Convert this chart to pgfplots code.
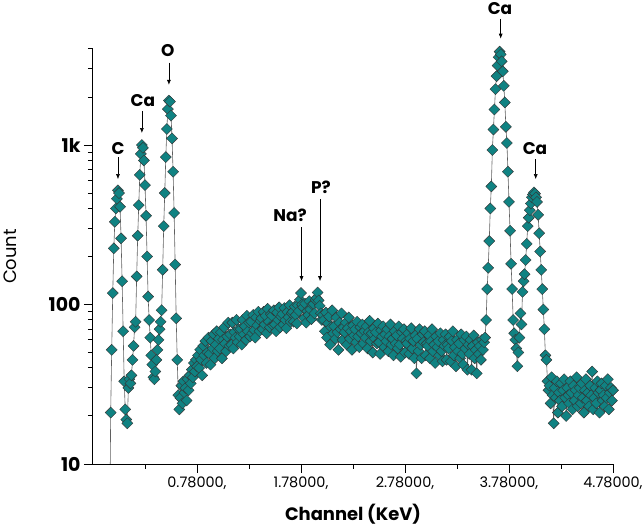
\documentclass[border=0pt]{standalone}
\usepackage{pgfplots}
\pgfplotsset{compat=1.18}
\usepackage{fontspec}
\setmainfont{Poppins}
\usetikzlibrary{arrows.meta}
\definecolor{markfill}{RGB}{16,130,130}
\definecolor{linegray}{RGB}{95,95,95}
\newcommand\annfont{\fontsize{17}{20}\selectfont\bfseries}
\begin{document}
\begin{tikzpicture}
\begin{axis}[
  scale only axis, width=520bp, height=415bp,
  xmin=-0.22, xmax=4.78,
  ymode=log, log basis y=10, ymin=10, ymax=4000,
  axis lines=left,
  axis line style={-, line width=1pt, black},
  every outer x axis line/.append style={-},
  every outer y axis line/.append style={-},
  tick align=outside,
  major tick length=9bp, minor tick length=5bp,
  every tick/.style={black, line width=1pt},
  xtick={0.78,1.78,2.78,3.78,4.78},
  xticklabels={{0.78000,},{1.78000,},{2.78000,},{3.78000,},{4.78000,}},
  minor xtick={0.28,1.28,2.28,3.28,4.28},
  ytick={10,100,1000},
  yticklabels={10,100,1k},
  minor ytick={20,30,40,50,60,70,80,90,200,300,400,500,600,700,800,900,2000,3000,4000},
  xticklabel style={font=\fontsize{14.5}{17}\selectfont},
  yticklabel style={font=\fontsize{19}{22}\selectfont\bfseries},
  clip mode=individual,
]
\coordinate (o) at (rel axis cs:0,0);
\addplot[color=linegray, line width=0.6pt, mark=square*, mark size=3.9bp,
  mark options={rotate=45, fill=markfill, draw=black!80, line width=0.4pt}]
coordinates {
(-0.06,3)(-0.05,21)(-0.04,52)(-0.03,118)(-0.02,225)(-0.01,330)(0.00,400)(0.01,460)(0.02,520)(0.03,500)
(0.04,410)(0.05,260)(0.06,140)(0.07,68)(0.08,33)(0.09,22)(0.10,19)(0.11,18)(0.12,30)(0.13,34)
(0.14,32)(0.15,36)(0.16,45)(0.17,55)(0.18,72)(0.19,78)(0.20,150)(0.21,270)(0.22,420)(0.23,650)
(0.24,880)(0.25,1000)(0.26,960)(0.27,800)(0.28,560)(0.29,360)(0.30,200)(0.31,112)(0.32,80)(0.33,62)
(0.34,48)(0.35,42)(0.36,35)(0.37,34)(0.38,38)(0.39,45)(0.40,52)(0.41,60)(0.42,70)(0.43,78)
(0.44,92)(0.45,165)(0.46,310)(0.47,500)(0.48,840)(0.49,1260)(0.50,1680)(0.51,1900)(0.52,1870)(0.53,1530)
(0.54,1100)(0.55,680)(0.56,375)(0.57,178)(0.58,82)(0.59,45)(0.60,27)(0.61,22)(0.62,26)(0.63,31)
(0.64,24)(0.65,33)(0.66,28)(0.67,30)(0.68,25)(0.69,34)(0.70,29)(0.71,36)(0.72,32)(0.73,39)
(0.74,35)(0.75,43)(0.76,38)(0.77,45)(0.78,41)(0.79,48)
(0.80,40)(0.81,52)(0.82,45)(0.83,36)(0.84,55)(0.85,48)(0.86,59)(0.87,43)(0.88,50)(0.89,62)
(0.90,49)(0.91,42)(0.92,59)(0.93,53)(0.94,65)(0.95,46)(0.96,56)(0.97,68)(0.98,51)(0.99,61)
(1.00,53)(1.01,67)(1.02,46)(1.03,60)(1.04,72)(1.05,57)(1.06,51)(1.07,63)(1.08,77)(1.09,55)
(1.10,65)(1.11,56)(1.12,77)(1.13,53)(1.14,67)(1.15,62)(1.16,80)(1.17,58)(1.18,70)(1.19,63)
(1.20,70)(1.21,56)(1.22,80)(1.23,65)(1.24,73)(1.25,60)(1.26,85)(1.27,68)(1.28,77)(1.29,63)
(1.30,78)(1.31,66)(1.32,86)(1.33,69)(1.34,62)(1.35,83)(1.36,74)(1.37,90)(1.38,68)(1.39,79)
(1.40,82)(1.41,70)(1.42,90)(1.43,75)(1.44,85)(1.45,66)(1.46,94)(1.47,78)(1.48,72)(1.49,87)
(1.50,85)(1.51,74)(1.52,92)(1.53,75)(1.54,68)(1.55,89)(1.56,80)(1.57,96)(1.58,72)(1.59,84)
(1.60,87)(1.61,75)(1.62,95)(1.63,80)(1.64,71)(1.65,90)(1.66,83)(1.67,99)(1.68,78)(1.69,88)
(1.70,90)(1.71,78)(1.72,97)(1.73,86)(1.74,76)(1.75,99)(1.76,91)(1.77,107)(1.78,118)(1.79,100)
(1.80,96)(1.81,82)(1.82,101)(1.83,77)(1.84,91)(1.85,86)(1.86,105)(1.87,93)(1.88,81)(1.89,100)
(1.90,101)(1.91,88)(1.92,107)(1.93,110)(1.94,119)(1.95,106)(1.96,98)(1.97,88)(1.98,80)(1.99,86)
(2.00,80)(2.01,68)(2.02,89)(2.03,62)(2.04,76)(2.05,84)(2.06,56)(2.07,72)(2.08,92)(2.09,66)
(2.10,73)(2.11,61)(2.12,83)(2.13,67)(2.14,52)(2.15,77)(2.16,70)(2.17,88)(2.18,60)(2.19,72)
(2.20,67)(2.21,77)(2.22,56)(2.23,71)(2.24,83)(2.25,61)(2.26,68)(2.27,52)(2.28,74)(2.29,64)
(2.30,70)(2.31,58)(2.32,78)(2.33,63)(2.34,54)(2.35,72)(2.36,66)(2.37,75)(2.38,57)(2.39,68)
(2.40,62)(2.41,73)(2.42,53)(2.43,67)(2.44,79)(2.45,59)(2.46,66)(2.47,50)(2.48,71)(2.49,61)
(2.50,67)(2.51,57)(2.52,76)(2.53,58)(2.54,49)(2.55,69)(2.56,63)(2.57,73)(2.58,54)(2.59,65)
(2.60,59)(2.61,70)(2.62,51)(2.63,63)(2.64,75)(2.65,56)(2.66,61)(2.67,48)(2.68,68)(2.69,57)
(2.70,64)(2.71,53)(2.72,73)(2.73,56)(2.74,47)(2.75,67)(2.76,61)(2.77,70)(2.78,50)(2.79,59)
(2.80,57)(2.81,66)(2.82,49)(2.83,61)(2.84,71)(2.85,53)(2.86,59)(2.87,46)(2.88,64)(2.89,37)
(2.90,61)(2.91,51)(2.92,70)(2.93,56)(2.94,46)(2.95,65)(2.96,58)(2.97,68)(2.98,48)(2.99,57)
(3.00,55)(3.01,64)(3.02,46)(3.03,59)(3.04,70)(3.05,51)(3.06,56)(3.07,43)(3.08,63)(3.09,54)
(3.10,59)(3.11,48)(3.12,66)(3.13,51)(3.14,44)(3.15,60)(3.16,55)(3.17,65)(3.18,45)(3.19,56)
(3.20,53)(3.21,63)(3.22,44)(3.23,59)(3.24,68)(3.25,48)(3.26,54)(3.27,41)(3.28,60)(3.29,51)
(3.30,57)(3.31,46)(3.32,65)(3.33,49)(3.34,42)(3.35,60)(3.36,53)(3.37,63)(3.38,39)(3.39,56)
(3.40,49)(3.41,60)(3.42,39)(3.43,55)(3.44,64)(3.45,46)(3.46,52)(3.47,37)(3.48,58)(3.49,49)
(3.50,55)(3.51,45)(3.52,60)
(3.53,52)(3.54,58)(3.55,62)(3.56,80)(3.57,125)(3.58,170)(3.59,250)(3.60,400)(3.61,550)(3.62,930)
(3.63,1250)(3.64,1670)(3.65,2240)(3.66,2700)(3.67,3150)(3.68,3550)(3.69,3850)(3.70,3700)(3.71,3350)(3.72,2900)
(3.73,2350)(3.74,1850)(3.75,1300)(3.76,1030)(3.77,680)(3.78,440)(3.79,290)(3.80,180)(3.81,125)(3.82,80)
(3.83,66)(3.84,60)(3.85,53)(3.86,41)(3.87,50)
(3.88,62)(3.89,88)(3.90,75)(3.91,120)(3.92,140)(3.93,155)(3.94,190)(3.95,240)(3.96,310)(3.97,350)
(3.98,390)(3.99,430)(4.00,470)(4.01,490)(4.02,505)(4.03,495)(4.04,470)(4.05,440)(4.06,365)(4.07,280)
(4.08,215)(4.09,165)(4.10,125)(4.11,93)(4.12,70)(4.13,48)(4.14,45)(4.15,33)(4.16,29)
(4.17,31)(4.18,24)(4.19,35)(4.20,27)(4.21,18)(4.22,30)(4.23,26)(4.24,33)(4.25,21)(4.26,28)
(4.27,25)(4.28,32)(4.29,23)(4.30,29)(4.31,34)(4.32,26)(4.33,20)(4.34,30)(4.35,27)(4.36,24)
(4.37,33)(4.38,28)(4.39,22)(4.40,31)(4.41,25)(4.42,29)(4.43,35)(4.44,23)(4.45,27)(4.46,30)
(4.47,24)(4.48,32)(4.49,26)(4.50,21)(4.51,29)(4.52,34)(4.53,25)(4.54,28)(4.55,23)(4.56,31)
(4.57,27)(4.58,38)(4.59,22)(4.60,26)(4.61,30)(4.62,24)(4.63,33)(4.64,28)(4.65,21)(4.66,29)
(4.67,32)(4.68,25)(4.69,27)(4.70,23)(4.71,31)(4.72,26)(4.73,34)(4.74,22)(4.75,28)(4.76,30)
(4.77,25)(4.78,29)
};
% annotations
\node[font=\annfont] at (axis cs:0.02,944) {C};
\draw[-{Latex[length=5bp,width=4bp]}, line width=0.6pt] (axis cs:0.02,841) -- (axis cs:0.02,611);
\node[font=\annfont] at (axis cs:0.26,1893) {Ca};
\draw[-{Latex[length=5bp,width=4bp]}, line width=0.6pt] (axis cs:0.25,1637) -- (axis cs:0.25,1189);
\node[font=\annfont] at (axis cs:0.50,3900) {O};
\draw[-{Latex[length=5bp,width=4bp]}, line width=0.6pt] (axis cs:0.51,3280) -- (axis cs:0.51,2383);
\node[font=\annfont] at (axis cs:1.674,363) {Na?};
\draw[-{Latex[length=5bp,width=4bp]}, line width=0.6pt] (axis cs:1.785,305) -- (axis cs:1.785,140);
\node[font=\annfont] at (axis cs:1.972,545) {P?};
\draw[-{Latex[length=5bp,width=4bp]}, line width=0.6pt] (axis cs:1.963,457) -- (axis cs:1.963,140);
\node[font=\annfont] at (axis cs:3.693,7160) {Ca};
\draw[-{Latex[length=5bp,width=4bp]}, line width=0.6pt] (axis cs:3.70,6190) -- (axis cs:3.70,4640);
\node[font=\annfont] at (axis cs:4.03,955) {Ca};
\draw[-{Latex[length=5bp,width=4bp]}, line width=0.6pt] (axis cs:4.037,817) -- (axis cs:4.037,611);
% axis labels
\node[rotate=90, font=\fontsize{18}{21}\selectfont] at ([xshift=-83bp]rel axis cs:0,0.5) {Count};
\node[inner sep=0pt, font=\fontsize{18}{22}\selectfont\bfseries] at ([yshift=-50bp]rel axis cs:0.5,0) {Channel (KeV)};
\end{axis}
\pgfresetboundingbox
\path (o) ++(-93bp,-65bp) rectangle ++(644bp,529bp);
\end{tikzpicture}
\end{document}
